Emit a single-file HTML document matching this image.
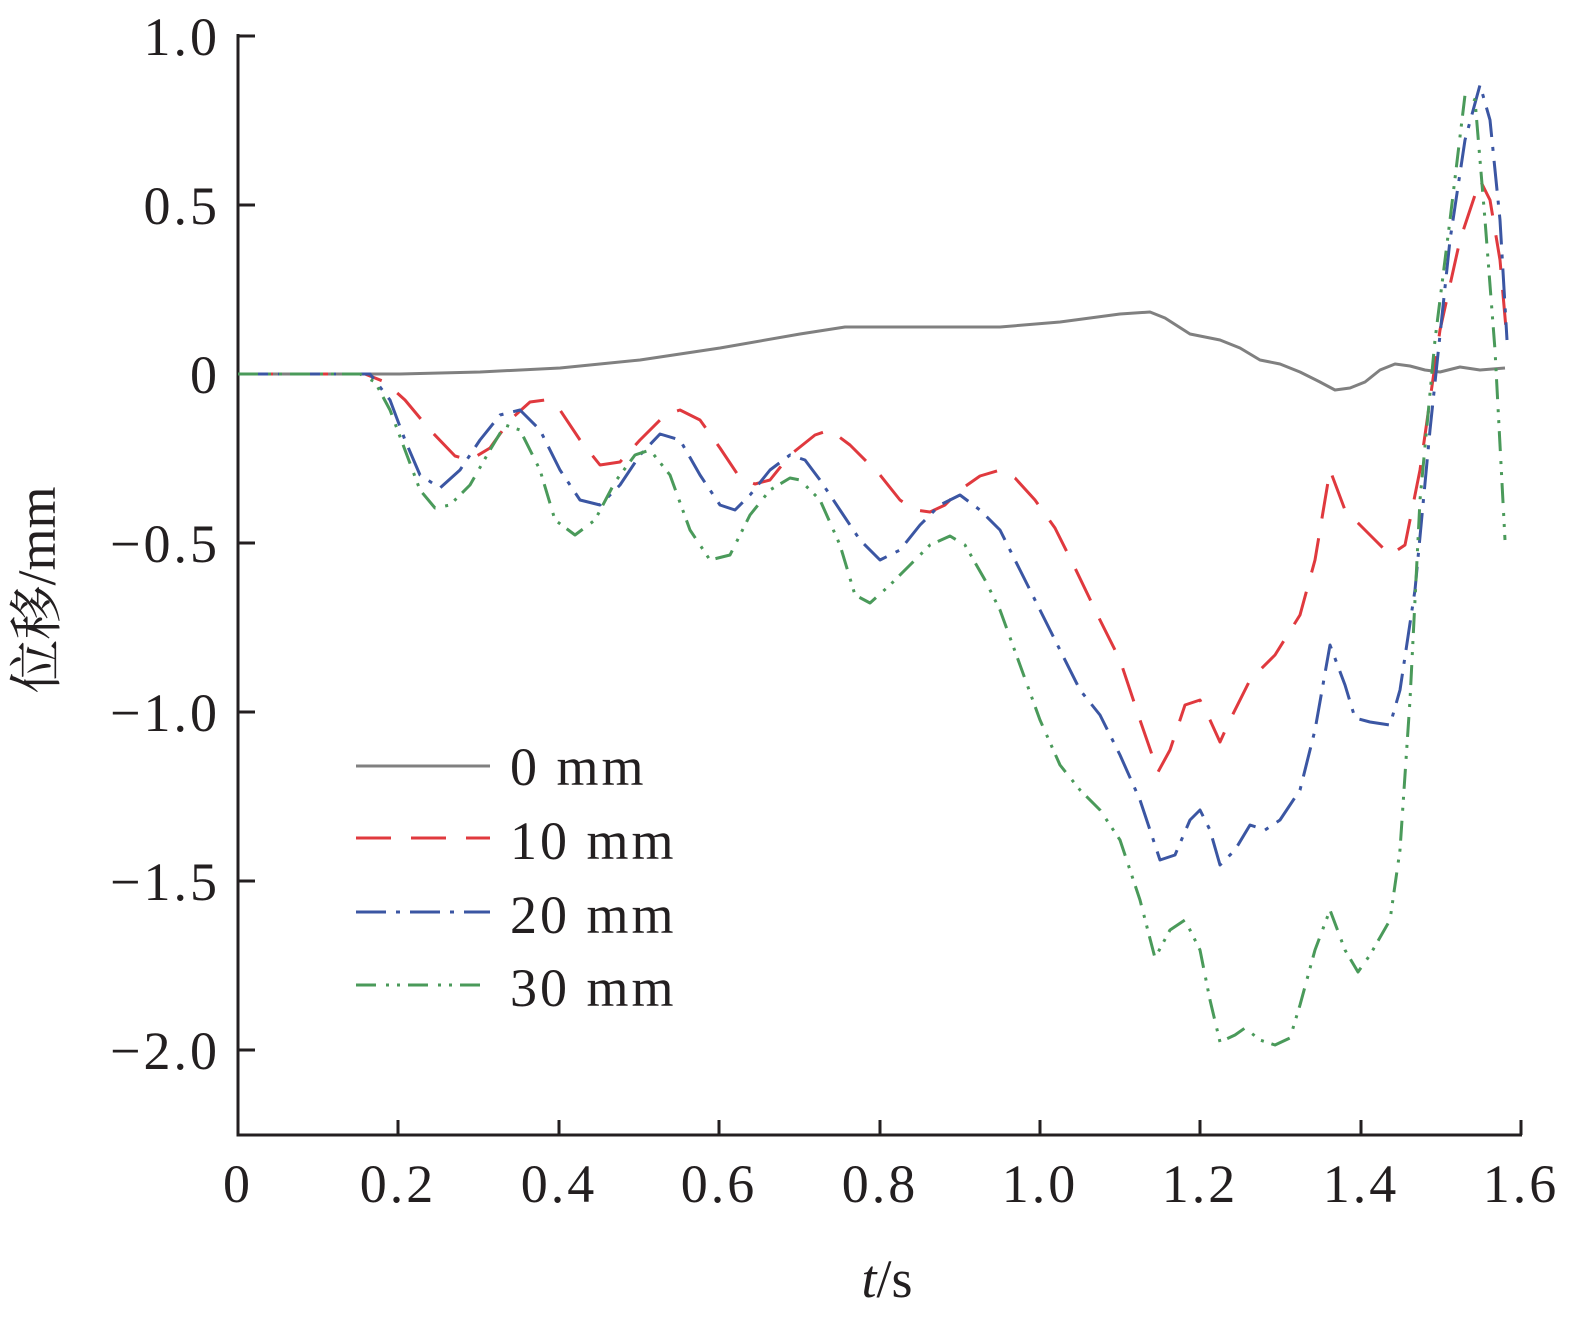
<!DOCTYPE html>
<html><head><meta charset="utf-8"><style>
html,body{margin:0;padding:0;background:#fff;}
svg{display:block;}
text{font-family:"Liberation Serif","Noto Serif CJK SC",serif;fill:#231f20;}
</style></head><body>
<svg width="1582" height="1335" viewBox="0 0 1582 1335" xmlns="http://www.w3.org/2000/svg">
<g stroke="#231f20" stroke-width="3" fill="none">
<path d="M238,34 V1135 H1522"/>
<path d="M238,36 h17 M238,205 h17 M238,374 h17 M238,543 h17 M238,712 h17 M238,881 h17 M238,1050 h17"/>
<path d="M398,1135 v-15 M559,1135 v-15 M719,1135 v-15 M880,1135 v-15 M1040,1135 v-15 M1200,1135 v-15 M1361,1135 v-15 M1521,1135 v-15"/>
</g>
<g font-size="54" text-anchor="end" letter-spacing="3">
<text x="220" y="55">1.0</text><text x="220" y="224">0.5</text><text x="220" y="393">0</text>
<text x="220" y="562">−0.5</text><text x="220" y="731">−1.0</text><text x="220" y="900">−1.5</text><text x="220" y="1069">−2.0</text>
</g>
<g font-size="54" text-anchor="middle" letter-spacing="3">
<text x="238" y="1202">0</text><text x="398" y="1202">0.2</text><text x="559" y="1202">0.4</text><text x="719" y="1202">0.6</text>
<text x="880" y="1202">0.8</text><text x="1040" y="1202">1.0</text><text x="1200" y="1202">1.2</text><text x="1361" y="1202">1.4</text><text x="1521" y="1202">1.6</text>
</g>
<text x="887" y="1297" font-size="54" text-anchor="middle"><tspan font-style="italic">t</tspan>/s</text>
<text transform="translate(55,590) rotate(-90)" font-size="54" text-anchor="middle">位移/mm</text>
<g fill="none" stroke-width="3" stroke-linejoin="round">
<polyline stroke="#808080" points="238,374 400,374 480,372 560,368 640,360 720,348 800,334 845,327 900,327 1000,327 1060,322 1120,314 1150,312 1165,318 1190,334 1220,340 1240,348 1260,360 1280,364 1300,372 1320,382 1335,390 1350,388 1365,382 1380,370 1395,364 1410,366 1425,370 1440,372 1460,367 1480,370 1505,368"/>
<polyline stroke="#e0393e" stroke-dasharray="35,20" points="238,374 365,374 385,382 405,400 430,430 455,456 470,460 490,448 510,420 530,402 545,400 560,410 580,440 600,465 620,462 640,440 665,415 680,410 700,420 720,448 740,478 755,484 770,480 790,455 815,435 830,430 850,445 880,475 900,500 915,510 930,512 945,505 960,490 980,476 1000,470 1015,478 1035,500 1055,528 1075,568 1100,620 1120,660 1140,720 1158,772 1170,750 1185,705 1200,700 1210,720 1220,742 1230,720 1250,680 1275,655 1300,615 1315,560 1330,470 1345,510 1360,525 1375,540 1390,555 1405,545 1420,470 1440,330 1460,240 1480,180 1490,200 1500,260 1507,340"/>
<polyline stroke="#3b56a3" stroke-dasharray="30,10,4,10" points="238,374 370,374 390,400 405,440 420,475 440,488 460,470 480,440 500,415 520,410 540,430 560,470 580,500 600,505 620,485 640,455 660,434 680,440 700,475 720,505 735,510 750,495 770,470 790,455 805,460 820,480 840,510 860,540 880,560 900,550 920,525 940,505 960,495 980,510 1000,530 1020,570 1040,610 1060,650 1080,690 1100,715 1120,755 1140,800 1160,860 1175,855 1190,820 1200,810 1210,830 1220,865 1235,850 1250,825 1265,830 1280,820 1300,790 1315,730 1330,645 1345,685 1355,718 1370,722 1390,725 1400,690 1415,590 1430,430 1450,240 1465,140 1480,85 1490,120 1500,220 1507,340"/>
<polyline stroke="#4a9a5a" stroke-dasharray="20,10,3,8,3,8" points="238,374 360,374 375,382 390,410 405,450 420,490 435,508 450,505 470,485 490,450 505,425 520,430 540,470 555,520 575,535 595,520 615,482 635,455 650,450 670,475 690,530 710,560 730,555 750,515 770,490 790,478 800,480 820,500 840,545 855,595 870,603 890,585 910,565 930,545 950,536 965,545 985,580 1000,610 1020,665 1040,720 1060,765 1080,790 1100,810 1120,840 1140,900 1155,958 1170,930 1185,920 1200,950 1210,1000 1220,1042 1235,1035 1245,1028 1260,1040 1275,1045 1290,1038 1300,1005 1315,950 1330,910 1345,950 1358,972 1370,955 1390,920 1400,850 1410,700 1420,500 1435,340 1450,220 1465,95 1475,100 1485,220 1495,350 1505,540"/>
<line x1="356" y1="766" x2="490" y2="766" stroke="#808080"/>
<line x1="356" y1="838" x2="490" y2="838" stroke="#e0393e" stroke-dasharray="35,20"/>
<line x1="356" y1="912" x2="490" y2="912" stroke="#3b56a3" stroke-dasharray="30,10,4,10"/>
<line x1="356" y1="985" x2="490" y2="985" stroke="#4a9a5a" stroke-dasharray="20,10,3,8,3,8"/>
</g>
<g font-size="54" letter-spacing="3">
<text x="510" y="785">0 mm</text><text x="510" y="859">10 mm</text><text x="510" y="933">20 mm</text><text x="510" y="1006">30 mm</text>
</g>
</svg>
</body></html>
